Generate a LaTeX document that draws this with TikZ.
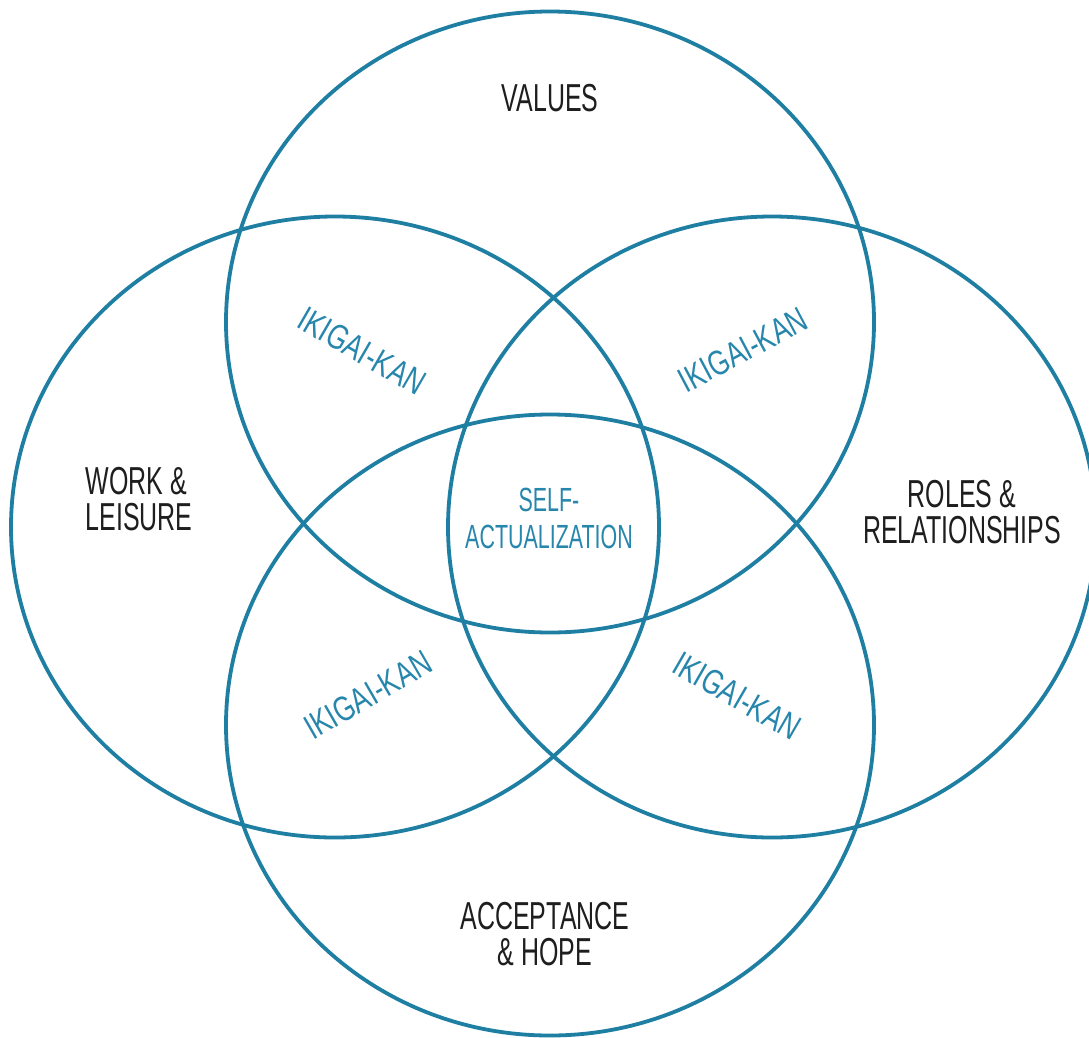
\documentclass[tikz,border=0pt]{standalone}
\usepackage{fontspec}
\setmainfont[FakeStretch=0.64]{Liberation Sans}
\newfontfamily\ikifont[FakeStretch=0.75]{Liberation Sans}
\usetikzlibrary{shapes.geometric}
\definecolor{ring}{RGB}{30,127,163}
\definecolor{tealtext}{RGB}{38,134,172}
\definecolor{ink}{RGB}{30,30,30}
\tikzset{
  ring/.style={draw=ring, line width=3.8pt, ellipse, inner sep=0pt, minimum width=648pt, minimum height=621pt},
  outerlabel/.style={text=ink, font=\fontsize{39}{36}\selectfont, inner sep=0pt},
  midlabel/.style={text=tealtext, font=\fontsize{33.5}{37}\selectfont, inner sep=0pt},
  ikilabel/.style={text=tealtext, font=\ikifont\fontsize{35}{37}\selectfont, inner sep=0pt}
}
\begin{document}
\begin{tikzpicture}[x=1pt,y=-1pt]
\useasboundingbox (0,0) rectangle (1089,1037);
\fill[white] (0,0) rectangle (1089,1037);
\node[ring] (top) at (550,322) {};
\node[ring] (left) at (335,527) {};
\node[ring] (right) at (772,527) {};
\node[ring] (bottom) at (550,725) {};
\node[outerlabel] (values) at (550,98) {VALUES};
\node[outerlabel, align=left] (work) at (139,499) {WORK \&\\LEISURE};
\node[outerlabel, align=center] (roles) at (962,512) {ROLES \&\\RELATIONSHIPS};
\node[outerlabel, align=center] (accept) at (545,934) {ACCEPTANCE\\\& HOPE};
\node[midlabel, align=center] (self) at (549,518) {SELF-\\ACTUALIZATION};
\node[ikilabel, rotate=-30] (ik1) at (362,351) {IKIGAI-KAN};
\node[ikilabel, rotate=28] (ik2) at (743,350) {IKIGAI-KAN};
\node[ikilabel, rotate=30] (ik3) at (368,695) {IKIGAI-KAN};
\node[ikilabel, rotate=-30] (ik4) at (737,696) {IKIGAI-KAN};
\end{tikzpicture}
\end{document}
